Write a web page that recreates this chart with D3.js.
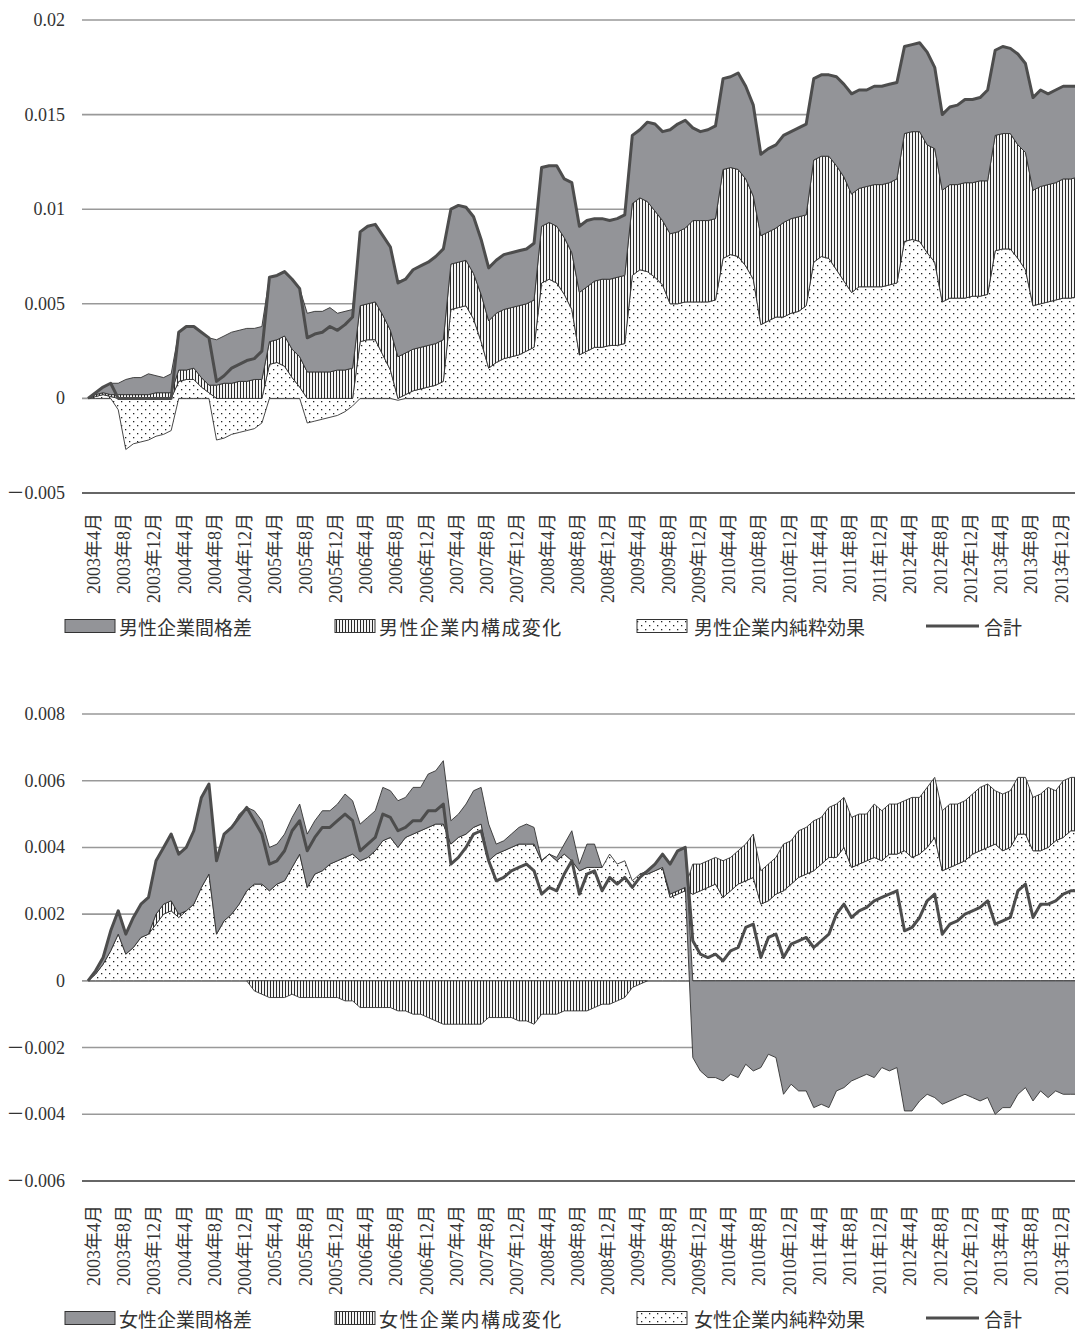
<!DOCTYPE html>
<html>
<head>
<meta charset="utf-8">
<script src="https://cdn.jsdelivr.net/npm/d3@7"></script>
<style>
  html, body { margin: 0; padding: 0; background: #fff; }
  svg { display: block; }
</style>
</head>
<body>
<svg id="chart" width="1075" height="1330"></svg>
<script>
// Monthly categories, April 2003 to March 2014
const months = [];
for (let y = 2003, m = 4; months.length < 132; ) {
  months.push(y + "年" + m + "月");
  m += 1;
  if (m > 12) { m = 1; y += 1; }
}

// Category axis labels (every fourth month)
const tickLabels = [
  "2003年4月","2003年8月","2003年12月","2004年4月","2004年8月","2004年12月",
  "2005年4月","2005年8月","2005年12月","2006年4月","2006年8月","2006年12月",
  "2007年4月","2007年8月","2007年12月","2008年4月","2008年8月","2008年12月",
  "2009年4月","2009年8月","2009年12月","2010年4月","2010年8月","2010年12月",
  "2011年4月","2011年8月","2011年12月","2012年4月","2012年8月","2012年12月",
  "2013年4月","2013年8月","2013年12月"
];

// ---- Men: decomposition components (one row per fiscal year, Apr..Mar) ----
const malePure = [
  0, 0.0001, 0.0002, 0.0001, -0.0006, -0.0027, -0.0024, -0.0023, -0.0022, -0.0020, -0.0019, -0.0017,
  0.0009, 0.0010, 0.0010, 0.0006, 0.0003, -0.0022, -0.0021, -0.0019, -0.0018, -0.0017, -0.0016, -0.0013,
  0.0018, 0.0019, 0.0017, 0.0011, 0.0006, -0.0013, -0.0012, -0.0011, -0.0010, -0.0009, -0.0007, -0.0004,
  0.0030, 0.0031, 0.0031, 0.0023, 0.0015, -0.0001, 0.0002, 0.0004, 0.0005, 0.0006, 0.0007, 0.0009,
  0.0047, 0.0048, 0.0049, 0.0042, 0.0030, 0.0016, 0.0019, 0.0021, 0.0022, 0.0023, 0.0025, 0.0027,
  0.0061, 0.0063, 0.0061, 0.0055, 0.0047, 0.0023, 0.0025, 0.0027, 0.0027, 0.0028, 0.0028, 0.0029,
  0.0065, 0.0068, 0.0067, 0.0064, 0.0060, 0.0050, 0.0050, 0.0051, 0.0051, 0.0051, 0.0051, 0.0052,
  0.0074, 0.0076, 0.0075, 0.0070, 0.0063, 0.0039, 0.0041, 0.0043, 0.0043, 0.0045, 0.0046, 0.0049,
  0.0072, 0.0075, 0.0074, 0.0068, 0.0062, 0.0056, 0.0059, 0.0059, 0.0059, 0.0059, 0.0060, 0.0061,
  0.0083, 0.0084, 0.0083, 0.0077, 0.0072, 0.0051, 0.0053, 0.0053, 0.0053, 0.0054, 0.0054, 0.0055,
  0.0078, 0.0079, 0.0079, 0.0074, 0.0068, 0.0049, 0.0050, 0.0051, 0.0052, 0.0053, 0.0053, 0.0054
];
const maleComp = [
  0, 0.0001, 0.0001, 0.0001, 0.0002, 0.0002, 0.0002, 0.0002, 0.0002, 0.0003, 0.0003, 0.0003,
  0.0006, 0.0005, 0.0006, 0.0005, 0.0004, 0.0007, 0.0008, 0.0008, 0.0009, 0.0009, 0.0010, 0.0010,
  0.0012, 0.0012, 0.0016, 0.0015, 0.0016, 0.0014, 0.0014, 0.0014, 0.0014, 0.0015, 0.0015, 0.0016,
  0.0019, 0.0019, 0.0020, 0.0021, 0.0021, 0.0022, 0.0022, 0.0022, 0.0022, 0.0022, 0.0022, 0.0022,
  0.0024, 0.0024, 0.0024, 0.0024, 0.0025, 0.0025, 0.0026, 0.0026, 0.0026, 0.0026, 0.0025, 0.0025,
  0.0030, 0.0030, 0.0030, 0.0030, 0.0030, 0.0033, 0.0034, 0.0035, 0.0036, 0.0035, 0.0036, 0.0036,
  0.0038, 0.0038, 0.0037, 0.0035, 0.0034, 0.0037, 0.0038, 0.0039, 0.0043, 0.0043, 0.0043, 0.0043,
  0.0047, 0.0046, 0.0046, 0.0046, 0.0044, 0.0047, 0.0047, 0.0047, 0.0050, 0.0050, 0.0050, 0.0048,
  0.0054, 0.0053, 0.0054, 0.0055, 0.0055, 0.0052, 0.0052, 0.0053, 0.0054, 0.0054, 0.0054, 0.0055,
  0.0057, 0.0057, 0.0058, 0.0057, 0.0060, 0.0059, 0.0060, 0.0060, 0.0061, 0.0060, 0.0061, 0.0060,
  0.0061, 0.0061, 0.0061, 0.0060, 0.0062, 0.0061, 0.0062, 0.0062, 0.0062, 0.0063, 0.0063, 0.0063
];
const maleBetween = [
  0, 0.0001, 0.0003, 0.0006, 0.0006, 0.0008, 0.0009, 0.0009, 0.0011, 0.0009, 0.0008, 0.0010,
  0.0020, 0.0023, 0.0022, 0.0024, 0.0025, 0.0024, 0.0025, 0.0027, 0.0027, 0.0028, 0.0027, 0.0028,
  0.0034, 0.0034, 0.0034, 0.0037, 0.0036, 0.0031, 0.0032, 0.0032, 0.0034, 0.0030, 0.0031, 0.0031,
  0.0039, 0.0041, 0.0041, 0.0042, 0.0044, 0.0040, 0.0039, 0.0042, 0.0043, 0.0044, 0.0046, 0.0048,
  0.0029, 0.0030, 0.0028, 0.0030, 0.0029, 0.0028, 0.0028, 0.0029, 0.0029, 0.0029, 0.0029, 0.0030,
  0.0031, 0.0030, 0.0032, 0.0031, 0.0037, 0.0035, 0.0035, 0.0033, 0.0032, 0.0031, 0.0031, 0.0032,
  0.0036, 0.0036, 0.0042, 0.0046, 0.0047, 0.0055, 0.0057, 0.0057, 0.0049, 0.0047, 0.0048, 0.0049,
  0.0048, 0.0048, 0.0051, 0.0049, 0.0048, 0.0043, 0.0044, 0.0044, 0.0046, 0.0046, 0.0047, 0.0048,
  0.0043, 0.0043, 0.0043, 0.0047, 0.0049, 0.0053, 0.0052, 0.0051, 0.0052, 0.0052, 0.0052, 0.0051,
  0.0046, 0.0046, 0.0047, 0.0049, 0.0043, 0.0040, 0.0041, 0.0042, 0.0044, 0.0044, 0.0044, 0.0048,
  0.0045, 0.0046, 0.0045, 0.0048, 0.0047, 0.0049, 0.0051, 0.0048, 0.0049, 0.0049, 0.0049, 0.0048
];
const maleTotal = [
  0, 0.0003, 0.0006, 0.0008, 0, 0, 0, 0, 0, 0, 0, 0,
  0.0035, 0.0038, 0.0038, 0.0035, 0.0032, 0.0009, 0.0012, 0.0016, 0.0018, 0.0020, 0.0021, 0.0025,
  0.0064, 0.0065, 0.0067, 0.0063, 0.0058, 0.0032, 0.0034, 0.0035, 0.0038, 0.0036, 0.0039, 0.0043,
  0.0088, 0.0091, 0.0092, 0.0086, 0.0080, 0.0061, 0.0063, 0.0068, 0.0070, 0.0072, 0.0075, 0.0079,
  0.0100, 0.0102, 0.0101, 0.0096, 0.0084, 0.0069, 0.0073, 0.0076, 0.0077, 0.0078, 0.0079, 0.0082,
  0.0122, 0.0123, 0.0123, 0.0116, 0.0114, 0.0091, 0.0094, 0.0095, 0.0095, 0.0094, 0.0095, 0.0097,
  0.0139, 0.0142, 0.0146, 0.0145, 0.0141, 0.0142, 0.0145, 0.0147, 0.0143, 0.0141, 0.0142, 0.0144,
  0.0169, 0.0170, 0.0172, 0.0165, 0.0155, 0.0129, 0.0132, 0.0134, 0.0139, 0.0141, 0.0143, 0.0145,
  0.0169, 0.0171, 0.0171, 0.0170, 0.0166, 0.0161, 0.0163, 0.0163, 0.0165, 0.0165, 0.0166, 0.0167,
  0.0186, 0.0187, 0.0188, 0.0183, 0.0175, 0.0150, 0.0154, 0.0155, 0.0158, 0.0158, 0.0159, 0.0163,
  0.0184, 0.0186, 0.0185, 0.0182, 0.0177, 0.0159, 0.0163, 0.0161, 0.0163, 0.0165, 0.0165, 0.0165
];

// ---- Women: decomposition components ----
const femalePure = [
  0, 0.0002, 0.0005, 0.0009, 0.0014, 0.0008, 0.0010, 0.0013, 0.0014, 0.0017, 0.0020, 0.0021,
  0.0019, 0.0021, 0.0023, 0.0028, 0.0032, 0.0014, 0.0018, 0.0020, 0.0023, 0.0027, 0.0029, 0.0029,
  0.0027, 0.0029, 0.0030, 0.0034, 0.0038, 0.0028, 0.0032, 0.0033, 0.0035, 0.0036, 0.0037, 0.0038,
  0.0036, 0.0037, 0.0039, 0.0042, 0.0043, 0.0040, 0.0043, 0.0044, 0.0045, 0.0046, 0.0047, 0.0047,
  0.0041, 0.0043, 0.0044, 0.0046, 0.0047, 0.0036, 0.0038, 0.0039, 0.0040, 0.0041, 0.0041, 0.0041,
  0.0036, 0.0038, 0.0036, 0.0038, 0.0036, 0.0033, 0.0034, 0.0034, 0.0034, 0.0038, 0.0035, 0.0036,
  0.0030, 0.0032, 0.0032, 0.0033, 0.0034, 0.0025, 0.0026, 0.0027, 0.0026, 0.0027, 0.0028, 0.0029,
  0.0025, 0.0027, 0.0029, 0.0030, 0.0031, 0.0023, 0.0024, 0.0026, 0.0027, 0.0029, 0.0031, 0.0032,
  0.0033, 0.0035, 0.0037, 0.0037, 0.0040, 0.0034, 0.0035, 0.0036, 0.0037, 0.0036, 0.0038, 0.0038,
  0.0039, 0.0037, 0.0038, 0.0040, 0.0043, 0.0033, 0.0034, 0.0035, 0.0036, 0.0038, 0.0039, 0.0040,
  0.0041, 0.0039, 0.0040, 0.0044, 0.0044, 0.0039, 0.0039, 0.0040, 0.0042, 0.0043, 0.0045, 0.0045
];
const femaleComp = [
  0, 0, 0, 0, 0, 0, 0, 0, 0, 0.0003, 0.0003, 0.0003,
  0.0001, 0, 0, 0, 0, 0, 0, 0, 0, 0, -0.0003, -0.0004,
  -0.0005, -0.0005, -0.0005, -0.0004, -0.0005, -0.0005, -0.0005, -0.0005, -0.0005, -0.0005, -0.0006, -0.0006,
  -0.0008, -0.0008, -0.0008, -0.0008, -0.0008, -0.0009, -0.0009, -0.0010, -0.0010, -0.0011, -0.0012, -0.0013,
  -0.0013, -0.0013, -0.0013, -0.0013, -0.0013, -0.0011, -0.0011, -0.0011, -0.0011, -0.0012, -0.0012, -0.0013,
  -0.0010, -0.0010, -0.0010, -0.0009, -0.0009, -0.0009, -0.0009, -0.0008, -0.0007, -0.0007, -0.0006, -0.0005,
  -0.0002, -0.0001, 0, 0, 0, 0.0001, 0.0001, 0.0001, 0.0009, 0.0008, 0.0008, 0.0008,
  0.0011, 0.0010, 0.0010, 0.0011, 0.0013, 0.0010, 0.0011, 0.0011, 0.0014, 0.0013, 0.0014, 0.0014,
  0.0015, 0.0014, 0.0015, 0.0016, 0.0015, 0.0015, 0.0015, 0.0014, 0.0016, 0.0015, 0.0015, 0.0015,
  0.0015, 0.0018, 0.0017, 0.0018, 0.0018, 0.0018, 0.0019, 0.0018, 0.0018, 0.0018, 0.0019, 0.0019,
  0.0016, 0.0017, 0.0017, 0.0017, 0.0017, 0.0016, 0.0017, 0.0018, 0.0015, 0.0017, 0.0016, 0.0016
];
const femaleBetween = [
  0, 0.0001, 0.0002, 0.0006, 0.0007, 0.0006, 0.0009, 0.0010, 0.0011, 0.0016, 0.0017, 0.0020,
  0.0018, 0.0019, 0.0022, 0.0027, 0.0027, 0.0022, 0.0026, 0.0026, 0.0027, 0.0025, 0.0022, 0.0019,
  0.0013, 0.0012, 0.0014, 0.0015, 0.0015, 0.0016, 0.0016, 0.0018, 0.0016, 0.0017, 0.0019, 0.0016,
  0.0011, 0.0012, 0.0012, 0.0016, 0.0014, 0.0014, 0.0012, 0.0014, 0.0013, 0.0016, 0.0016, 0.0019,
  0.0007, 0.0007, 0.0009, 0.0011, 0.0011, 0.0011, 0.0003, 0.0003, 0.0004, 0.0005, 0.0006, 0.0005,
  0, 0, 0.0001, 0.0003, 0.0009, 0.0002, 0.0007, 0.0007, 0, 0, 0, 0,
  0, 0, 0.0001, 0.0002, 0.0004, 0.0009, 0.0012, 0.0012, -0.0023, -0.0027, -0.0029, -0.0029,
  -0.0030, -0.0028, -0.0029, -0.0025, -0.0027, -0.0026, -0.0022, -0.0023, -0.0034, -0.0031, -0.0033, -0.0033,
  -0.0038, -0.0037, -0.0038, -0.0033, -0.0032, -0.0030, -0.0029, -0.0028, -0.0029, -0.0026, -0.0027, -0.0026,
  -0.0039, -0.0039, -0.0036, -0.0034, -0.0035, -0.0037, -0.0036, -0.0035, -0.0034, -0.0035, -0.0036, -0.0035,
  -0.0040, -0.0038, -0.0038, -0.0034, -0.0032, -0.0036, -0.0033, -0.0035, -0.0033, -0.0034, -0.0034, -0.0034
];
const femaleTotal = [
  0, 0.0003, 0.0007, 0.0015, 0.0021, 0.0014, 0.0019, 0.0023, 0.0025, 0.0036, 0.0040, 0.0044,
  0.0038, 0.0040, 0.0045, 0.0055, 0.0059, 0.0036, 0.0044, 0.0046, 0.0049, 0.0052, 0.0048, 0.0044,
  0.0035, 0.0036, 0.0039, 0.0045, 0.0048, 0.0039, 0.0043, 0.0046, 0.0046, 0.0048, 0.0050, 0.0048,
  0.0039, 0.0041, 0.0043, 0.0050, 0.0049, 0.0045, 0.0046, 0.0048, 0.0048, 0.0051, 0.0051, 0.0053,
  0.0035, 0.0037, 0.0040, 0.0044, 0.0045, 0.0036, 0.0030, 0.0031, 0.0033, 0.0034, 0.0035, 0.0033,
  0.0026, 0.0028, 0.0027, 0.0032, 0.0036, 0.0026, 0.0032, 0.0033, 0.0027, 0.0031, 0.0029, 0.0031,
  0.0028, 0.0031, 0.0033, 0.0035, 0.0038, 0.0035, 0.0039, 0.0040, 0.0012, 0.0008, 0.0007, 0.0008,
  0.0006, 0.0009, 0.0010, 0.0016, 0.0017, 0.0007, 0.0013, 0.0014, 0.0007, 0.0011, 0.0012, 0.0013,
  0.0010, 0.0012, 0.0014, 0.0020, 0.0023, 0.0019, 0.0021, 0.0022, 0.0024, 0.0025, 0.0026, 0.0027,
  0.0015, 0.0016, 0.0019, 0.0024, 0.0026, 0.0014, 0.0017, 0.0018, 0.0020, 0.0021, 0.0022, 0.0024,
  0.0017, 0.0018, 0.0019, 0.0027, 0.0029, 0.0019, 0.0023, 0.0023, 0.0024, 0.0026, 0.0027, 0.0027
];

// Value axis ticks
const maleTicks = [0.02, 0.015, 0.01, 0.005, 0, -0.005];
const maleTickLabels = ["0.02", "0.015", "0.01", "0.005", "0", "－0.005"];
const femaleTicks = [0.008, 0.006, 0.004, 0.002, 0, -0.002, -0.004, -0.006];
const femaleTickLabels = ["0.008", "0.006", "0.004", "0.002", "0", "－0.002", "－0.004", "－0.006"];

// Legend entries
const maleLegend = ["男性企業間格差", "男性企業内構成変化", "男性企業内純粋効果", "合計"];
const femaleLegend = ["女性企業間格差", "女性企業内構成変化", "女性企業内純粋効果", "合計"];

// ------------------------------------------------------------------
const svg = d3.select("#chart");
const NUM_FONT = "'Liberation Serif', 'Noto Sans CJK JP', serif";
const JP_FONT = "'Noto Sans CJK JP', sans-serif";
const TEXT = "#333";
const GRAY = "#939498";
const EDGE = "#333";
const TOTAL = "#4d4d4d";

// Fill patterns
const defs = svg.append("defs");
const hatch = defs.append("pattern").attr("id", "hatch")
  .attr("patternUnits", "userSpaceOnUse").attr("width", 3).attr("height", 6);
hatch.append("rect").attr("width", 3).attr("height", 6).attr("fill", "#f4f4f4");
hatch.append("rect").attr("x", 0).attr("width", 1).attr("height", 6).attr("fill", "#2a2a2a");

const dots = defs.append("pattern").attr("id", "dots")
  .attr("patternUnits", "userSpaceOnUse").attr("width", 8).attr("height", 8);
dots.append("rect").attr("width", 8).attr("height", 8).attr("fill", "#fff");
dots.append("rect").attr("x", 1).attr("y", 1).attr("width", 1.3).attr("height", 1.3).attr("fill", "#222");
dots.append("rect").attr("x", 5).attr("y", 5).attr("width", 1.3).attr("height", 1.3).attr("fill", "#222");

const fills = { pure: "url(#dots)", comp: "url(#hatch)", between: GRAY };

// Stack offset: positives build up from zero, negatives build down from zero.
// A zero value takes the side of its nearest non-zero neighbour so runs stay continuous.
function signedOffset(series, order) {
  const n = series.length;
  if (!n) return;
  const m = series[0].length;
  const raw = series.map(s => s.map(d => d[1] - d[0]));
  const side = raw.map(r => r.map((v, j) => {
    if (v > 0) return 1;
    if (v < 0) return -1;
    for (let k = 1; k < m; k++) {
      if (j - k >= 0 && r[j - k] !== 0) return Math.sign(r[j - k]);
      if (j + k < m && r[j + k] !== 0) return Math.sign(r[j + k]);
    }
    return 1;
  }));
  series.forEach((s, si) => {
    const r = raw[si];
    s.defined = r.map((v, j) => v !== 0 || (j > 0 && r[j - 1] !== 0) || (j < m - 1 && r[j + 1] !== 0));
  });
  for (let j = 0; j < m; ++j) {
    let yp = 0, yn = 0;
    for (let k = 0; k < n; ++k) {
      const si = order[k];
      const d = series[si][j];
      const v = raw[si][j];
      if (side[si][j] > 0) { d[0] = yp; d[1] = yp += v; }
      else { d[1] = yn; d[0] = yn += v; }
    }
  }
}

function drawPanel(opts) {
  const { pure, comp, between, total, ticks, tickText, yTop, yBottom, domain, labelTop, legendY, legendText } = opts;

  const x = d3.scalePoint().domain(months).range([88, 88 + 131 * 7.56]);
  const y = d3.scaleLinear().domain(domain).range([yBottom, yTop]);

  const g = svg.append("g");

  // horizontal gridlines
  g.selectAll("line.grid").data(ticks).join("line")
    .attr("x1", 82).attr("x2", 1075)
    .attr("y1", d => y(d)).attr("y2", d => y(d))
    .attr("stroke", (d, i) => i === ticks.length - 1 ? "#333" : "#999")
    .attr("stroke-width", (d, i) => i === ticks.length - 1 ? 1.4 : 1.6);

  // value-axis labels
  g.selectAll("text.ytick").data(ticks).join("text")
    .attr("x", 65).attr("y", d => y(d))
    .attr("text-anchor", "end").attr("dominant-baseline", "central")
    .attr("font-family", NUM_FONT).attr("font-size", 18).attr("fill", TEXT)
    .text((d, i) => tickText[i]);

  // stacked areas
  const data = months.map((m, i) => ({ month: m, pure: pure[i], comp: comp[i], between: between[i], total: total[i] }));
  const series = d3.stack().keys(["pure", "comp", "between"]).offset(signedOffset)(data);

  series.forEach(s => {
    const area = d3.area()
      .defined((d, j) => s.defined[j])
      .x(d => x(d.data.month))
      .y0(d => y(d[0]))
      .y1(d => y(d[1]));
    g.append("path")
      .attr("d", area(s))
      .attr("fill", fills[s.key])
      .attr("stroke", EDGE).attr("stroke-width", 0.9)
      .attr("stroke-linejoin", "round");
  });

  // total line
  const line = d3.line().x(d => x(d.month)).y(d => y(d.total));
  g.append("path").attr("d", line(data))
    .attr("fill", "none").attr("stroke", TOTAL).attr("stroke-width", 3)
    .attr("stroke-linejoin", "round");

  // category labels, rotated
  g.selectAll("text.xtick").data(tickLabels).join("text")
    .attr("transform", d => `translate(${x(d) + 6},${labelTop}) rotate(-90)`)
    .attr("text-anchor", "end").attr("dominant-baseline", "central")
    .attr("font-family", NUM_FONT).attr("font-size", 18).attr("fill", TEXT)
    .text(d => d);

  // legend
  const sw = [
    { x0: 65, x1: 115, tx: 119, fill: GRAY, ls: 0 },
    { x0: 335, x1: 375, tx: 379, fill: "url(#hatch)", ls: 1.4 },
    { x0: 637, x1: 687, tx: 694, fill: "url(#dots)", ls: 0 },
    { x0: 926, x1: 979, tx: 984, fill: null, ls: 0 }
  ];
  sw.forEach((s, i) => {
    if (s.fill) {
      g.append("rect").attr("x", s.x0).attr("y", legendY - 6.5)
        .attr("width", s.x1 - s.x0).attr("height", 13)
        .attr("fill", s.fill).attr("stroke", EDGE).attr("stroke-width", 1);
    } else {
      g.append("line").attr("x1", s.x0).attr("x2", s.x1)
        .attr("y1", legendY).attr("y2", legendY)
        .attr("stroke", TOTAL).attr("stroke-width", 3);
    }
    g.append("text").attr("x", s.tx).attr("y", legendY)
      .attr("dominant-baseline", "central")
      .attr("letter-spacing", s.ls)
      .attr("font-family", JP_FONT).attr("font-size", 19).attr("fill", TEXT)
      .text(legendText[i]);
  });
}

drawPanel({
  pure: malePure, comp: maleComp, between: maleBetween, total: maleTotal,
  ticks: maleTicks, tickText: maleTickLabels,
  domain: [-0.005, 0.02], yTop: 20, yBottom: 493,
  labelTop: 513, legendY: 626, legendText: maleLegend
});

drawPanel({
  pure: femalePure, comp: femaleComp, between: femaleBetween, total: femaleTotal,
  ticks: femaleTicks, tickText: femaleTickLabels,
  domain: [-0.006, 0.008], yTop: 714, yBottom: 1181,
  labelTop: 1205, legendY: 1318, legendText: femaleLegend
});
</script>
</body>
</html>
